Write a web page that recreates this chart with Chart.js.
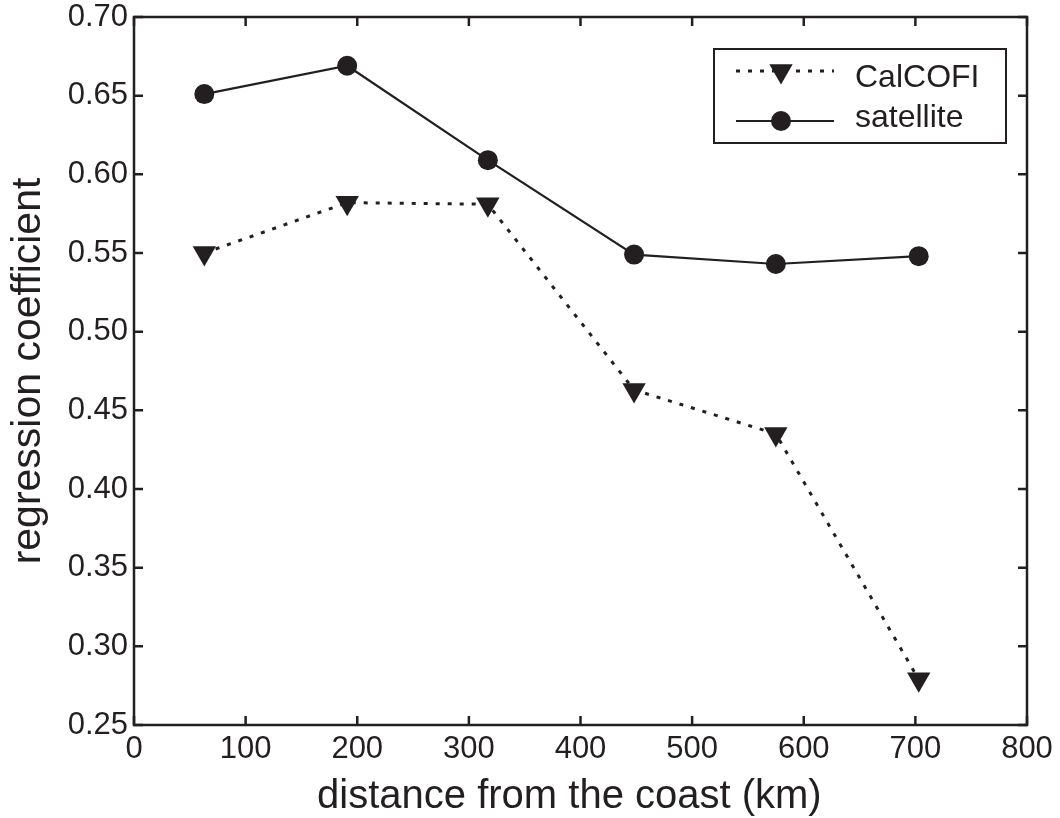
<!DOCTYPE html>
<html>
<head>
<meta charset="utf-8">
<script src="https://cdn.jsdelivr.net/npm/chart.js@4"></script>
<style>
  body { margin: 0; background: #fff; }
  #wrap { width: 1060px; height: 818px; }
</style>
</head>
<body>
<div id="wrap"><canvas id="coefChart"></canvas></div>
<script>
const distanceKm = [63, 191, 317, 448, 575, 703];
const calcofiCoef = [0.550, 0.582, 0.581, 0.463, 0.435, 0.279];
const satelliteCoef = [0.651, 0.669, 0.609, 0.549, 0.543, 0.548];
const xTickValues = [0, 100, 200, 300, 400, 500, 600, 700, 800];
const yTickValues = [0.25, 0.30, 0.35, 0.40, 0.45, 0.50, 0.55, 0.60, 0.65, 0.70];

const INK = "#231f20";
const FONT = "'Liberation Sans', Arial, Helvetica, sans-serif";

function toPoints(xs, ys) {
    return xs.map((x, i) => ({ x: x, y: ys[i] }));
}

// box round the plot, ticks pointing inwards on every side
const framePlugin = {
    id: "frame",
    beforeDatasetsDraw(chart) {
        const { ctx, chartArea: a, scales } = chart;
        const len = 9;
        ctx.save();
        ctx.strokeStyle = INK;
        ctx.lineWidth = 2.5;
        ctx.strokeRect(a.left, a.top, a.right - a.left, a.bottom - a.top);
        ctx.beginPath();
        scales.x.ticks.forEach((t) => {
            const px = scales.x.getPixelForValue(t.value);
            ctx.moveTo(px, a.bottom);
            ctx.lineTo(px, a.bottom - len);
            ctx.moveTo(px, a.top);
            ctx.lineTo(px, a.top + len);
        });
        scales.y.ticks.forEach((t) => {
            const py = scales.y.getPixelForValue(t.value);
            ctx.moveTo(a.left, py);
            ctx.lineTo(a.left + len, py);
            ctx.moveTo(a.right, py);
            ctx.lineTo(a.right - len, py);
        });
        ctx.stroke();
        ctx.restore();
    },
};

// legend drawn inside the plot, top right corner
const legendBoxPlugin = {
    id: "legendBox",
    afterDraw(chart) {
        const { ctx, chartArea: a } = chart;
        const box = { left: a.right - 313, top: a.top + 32, width: 292, height: 94 };
        ctx.save();
        ctx.strokeStyle = INK;
        ctx.lineWidth = 2;
        ctx.fillStyle = "#fff";
        ctx.fillRect(box.left, box.top, box.width, box.height);
        ctx.strokeRect(box.left, box.top, box.width, box.height);

        const rows = [{ line: 22, text: 38 }, { line: 72, text: 78 }];
        chart.data.datasets.forEach((ds, i) => {
            const y = box.top + rows[i].line;
            ctx.strokeStyle = ds.borderColor;
            ctx.lineWidth = ds.borderWidth;
            ctx.setLineDash(ds.borderDash || []);
            ctx.beginPath();
            ctx.moveTo(box.left + 22, y);
            ctx.lineTo(box.left + 120, y);
            ctx.stroke();
            ctx.setLineDash([]);
            ctx.fillStyle = ds.pointBackgroundColor;
            Chart.helpers.drawPoint(ctx, {
                pointStyle: ds.pointStyle,
                rotation: ds.pointRotation || 0,
                radius: ds.pointRadius,
                borderWidth: 0,
            }, box.left + 67, y);
            ctx.fillStyle = INK;
            ctx.font = "32px " + FONT;
            ctx.textBaseline = "alphabetic";
            ctx.fillText(ds.label, box.left + 141, box.top + rows[i].text);
        });
        ctx.restore();
    },
};

// keep the plot edges where the layout puts them, labels may overhang
function dropLabelPadding(s) {
    s.paddingTop = 0;
    s.paddingBottom = 0;
    s.paddingLeft = 0;
    s.paddingRight = 0;
}

new Chart(document.getElementById("coefChart"), {
    type: "scatter",
    data: {
        datasets: [
            {
                label: "CalCOFI",
                data: toPoints(distanceKm, calcofiCoef),
                showLine: true,
                borderColor: INK,
                borderWidth: 3,
                borderDash: [4, 8],
                pointStyle: "triangle",
                pointRotation: 180,
                pointRadius: 13.5,
                pointBackgroundColor: INK,
                pointBorderWidth: 0,
            },
            {
                label: "satellite",
                data: toPoints(distanceKm, satelliteCoef),
                showLine: true,
                borderColor: INK,
                borderWidth: 2.2,
                pointStyle: "circle",
                pointRadius: 10,
                pointBackgroundColor: INK,
                pointBorderWidth: 0,
            },
        ],
    },
    options: {
        responsive: true,
        maintainAspectRatio: false,
        animation: false,
        events: [],
        layout: { padding: { top: 17, right: 33, left: 0, bottom: 0 } },
        plugins: {
            legend: { display: false },
            tooltip: { enabled: false },
        },
        scales: {
            x: {
                type: "linear",
                min: 0,
                max: 800,
                afterBuildTicks: (s) => { s.ticks = xTickValues.map((v) => ({ value: v })); },
                afterFit: (s) => { s.height = 93; dropLabelPadding(s); },
                grid: { display: false, drawTicks: false },
                border: { display: false },
                ticks: {
                    color: INK,
                    font: { family: FONT, size: 31 },
                    padding: 6,
                    maxRotation: 0,
                    autoSkip: false,
                },
                title: {
                    display: true,
                    // trailing spaces nudge the centred title a little to the left
                    text: "distance from the coast (km)  ",
                    color: INK,
                    font: { family: FONT, size: 40, lineHeight: 1 },
                    padding: { top: 0, bottom: 1 },
                },
            },
            y: {
                type: "linear",
                min: 0.25,
                max: 0.70,
                afterBuildTicks: (s) => { s.ticks = yTickValues.map((v) => ({ value: v })); },
                afterFit: (s) => { s.width = 134; dropLabelPadding(s); },
                grid: { display: false, drawTicks: false },
                border: { display: false },
                ticks: {
                    color: INK,
                    font: { family: FONT, size: 31 },
                    padding: 6,
                    callback: (v) => v.toFixed(2),
                },
                title: {
                    display: true,
                    text: "regression coefficient",
                    color: INK,
                    font: { family: FONT, size: 41, lineHeight: 1 },
                    padding: { top: 8, bottom: 0 },
                },
            },
        },
    },
    plugins: [framePlugin, legendBoxPlugin],
});
</script>
</body>
</html>
